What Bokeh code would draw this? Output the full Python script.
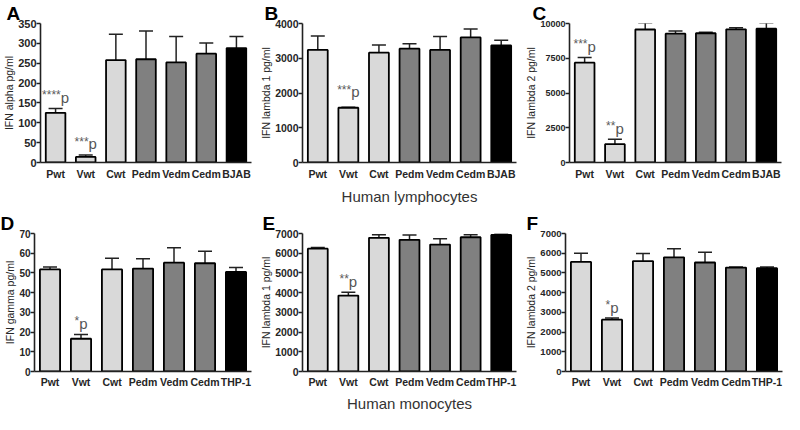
from bokeh.plotting import figure
from bokeh.models import ColumnDataSource, Whisker, FactorRange, Range1d, FixedTicker, TeeHead
from bokeh.layouts import row, column
from bokeh.embed import file_html
from bokeh.resources import INLINE
from bokeh.core.properties import value

# ---------------- data ----------------
cats_lym = ["Pwt", "Vwt", "Cwt", "Pedm", "Vedm", "Cedm", "BJAB"]
cats_mono = ["Pwt", "Vwt", "Cwt", "Pedm", "Vedm", "Cedm", "THP-1"]
shade = ["light", "light", "light", "dark", "dark", "dark", "black"]

a_mean = [125, 14, 258, 260, 252, 274, 288]
a_low = [111, 8, 190, 187, 190, 247, 260]
a_high = [136, 19, 323, 331, 317, 301, 317]

b_mean = [3240, 1575, 3160, 3275, 3240, 3600, 3370]
b_low = [2840, 1560, 2955, 3140, 2860, 3345, 3210]
b_high = [3640, 1590, 3380, 3415, 3625, 3845, 3520]

c_mean = [7180, 1320, 9570, 9270, 9300, 9580, 9630]
c_low = [6810, 950, 9090, 9120, 9250, 9460, 9200]
c_high = [7560, 1670, 10030, 9460, 9370, 9700, 10040]

d_mean = [51.8, 16.6, 51.8, 52.2, 55.2, 54.9, 50.5]
d_low = [51.0, 14.8, 47.0, 47.0, 47.6, 48.8, 48.5]
d_high = [53.0, 18.8, 57.5, 57.2, 62.8, 61.0, 52.7]

e_mean = [6230, 3850, 6780, 6680, 6440, 6810, 6930]
e_low = [6160, 3650, 6620, 6420, 6160, 6700, 6880]
e_high = [6290, 4020, 6940, 6920, 6730, 6940, 6970]

f_mean = [5560, 2630, 5600, 5790, 5530, 5270, 5240]
f_low = [5140, 2580, 5190, 5330, 5010, 5240, 5200]
f_high = [6000, 2710, 5980, 6230, 6050, 5300, 5300]

# significance labels (category, stars)
a_sig = [("Pwt", "****"), ("Vwt", "***")]
b_sig = [("Vwt", "***")]
c_sig = [("Pwt", "***"), ("Vwt", "**")]
d_sig = [("Vwt", "*")]
e_sig = [("Vwt", "**")]
f_sig = [("Vwt", "*")]

a_ticks = [0, 50, 100, 150, 200, 250, 300, 350]
b_ticks = [0, 1000, 2000, 3000, 4000]
c_ticks = [0, 2500, 5000, 7500, 10000]
d_ticks = [0, 10, 20, 30, 40, 50, 60, 70]
ef_ticks = [0, 1000, 2000, 3000, 4000, 5000, 6000, 7000]

COLORS = {"light": "#d9d9d9", "dark": "#808080", "black": "#000000"}
FONT = "Liberation Sans"
TXT = "#262626"


def panel(letter, cats, mean, low, high, ticks, ylabel, sig, width, height,
          bl, br, bt, bb, tick_fs, title_off, xlabel=" ", xl_std=5, lab_std=5,
          sig_gap=0.08):
    p = figure(x_range=FactorRange(*cats, range_padding=0.0),
               y_range=Range1d(0, ticks[-1]),
               width=width, height=height, output_backend="svg",
               toolbar_location=None, min_border_left=bl, min_border_right=br,
               min_border_top=bt, min_border_bottom=bb)
    src = ColumnDataSource(dict(x=cats, top=mean, low=low, high=high,
                                color=[COLORS[s] for s in shade]))
    p.vbar(x="x", top="top", width=0.65, source=src, fill_color="color",
           line_color="black", line_width=1.8)
    w = Whisker(base="x", upper="high", lower="low", source=src,
                line_color="#222222", line_width=1.5,
                upper_head=TeeHead(size=14, line_color="#222222", line_width=1.5),
                lower_head=TeeHead(size=14, line_color="#222222", line_width=1.5))
    p.add_layout(w)

    # significance annotations
    ymax = ticks[-1]
    hi = dict(zip(cats, high))
    fs_star, fs_p = 12, 15
    for cat, stars in sig:
        n = len(stars)
        wid = n * 0.389 * fs_star + 0.556 * fs_p
        dx = -wid / 2 + n * 0.389 * fs_star
        y = hi[cat] + sig_gap * ymax
        p.text(x=[cat], y=[y], text=[stars], text_align="right",
               text_baseline="alphabetic", text_font=value(FONT),
               text_font_size=f"{fs_star}px", text_color="#5a5a5a",
               x_offset=dx, y_offset=-2)
        p.text(x=[cat], y=[y], text=["p"], text_align="left",
               text_baseline="alphabetic", text_font=value(FONT),
               text_font_size=f"{fs_p}px", text_color="#555555", x_offset=dx)

    p.title.text = letter
    p.title.text_font = FONT
    p.title.text_font_size = "19px"
    p.title.text_font_style = "bold"
    p.title.text_color = "black"
    p.title.align = "left"
    p.title.offset = title_off
    p.title.standoff = 0

    p.xgrid.visible = False
    p.ygrid.visible = False
    p.outline_line_color = None
    p.background_fill_color = "white"
    p.border_fill_color = "white"

    ya = p.yaxis[0]
    ya.ticker = FixedTicker(ticks=ticks)
    ya.axis_label = ylabel
    ya.axis_label_text_font = FONT
    ya.axis_label_text_font_size = "10.5px"
    ya.axis_label_text_font_style = "normal"
    ya.axis_label_text_color = TXT
    ya.axis_label_standoff = 0
    ya.major_label_text_font = FONT
    ya.major_label_text_font_size = tick_fs
    ya.major_label_text_font_style = "bold"
    ya.major_label_text_color = TXT
    ya.major_label_standoff = 0
    ya.major_tick_out = 4
    ya.major_tick_in = 0
    ya.minor_tick_out = 0
    ya.minor_tick_in = 0
    ya.axis_line_width = 1.6
    ya.axis_line_color = "#222222"
    ya.major_tick_line_width = 1.6
    ya.major_tick_line_color = "#222222"

    xa = p.xaxis[0]
    xa.major_tick_out = 0
    xa.major_tick_in = 0
    xa.major_label_standoff = lab_std
    xa.major_label_text_font = FONT
    xa.major_label_text_font_size = "10.5px"
    xa.major_label_text_font_style = "bold"
    xa.major_label_text_color = TXT
    xa.axis_line_width = 1.6
    xa.axis_line_color = "#222222"
    xa.axis_label = xlabel
    xa.axis_label_text_font = FONT
    xa.axis_label_text_font_size = "15px"
    xa.axis_label_text_font_style = "normal"
    xa.axis_label_text_color = "#333333"
    xa.axis_label_standoff = xl_std
    return p


H1, H2 = 207, 207
pA = panel("A", cats_lym, a_mean, a_low, a_high, a_ticks, "IFN alpha pg/ml", a_sig,
           257, H1, 34, 6, 21, 43, "11px", -34)
pB = panel("B", cats_lym, b_mean, b_low, b_high, b_ticks, "IFN lambda 1 pg/ml", b_sig,
           265, H1, 43, 6, 21, 43, "10.5px", -38, xlabel="Human lymphocytes",
           sig_gap=0.11)
pC = panel("C", cats_lym, c_mean, c_low, c_high, c_ticks, "IFN lambda 2 pg/ml", c_sig,
           262, H1, 42, 3, 21, 43, "9px", -37)
pD = panel("D", cats_mono, d_mean, d_low, d_high, d_ticks, "IFN gamma pg/ml", d_sig,
           257, H2, 34, 6, 26, 38, "10px", -34, xl_std=4, lab_std=4)
pE = panel("E", cats_mono, e_mean, e_low, e_high, ef_ticks, "IFN lambda 1 pg/ml", e_sig,
           265, H2, 43, 6, 26, 38, "10.5px", -40, xlabel="Human monocytes", xl_std=4, lab_std=4)
pF = panel("F", cats_mono, f_mean, f_low, f_high, ef_ticks, "IFN lambda 2 pg/ml", f_sig,
           262, H2, 43, 2, 26, 38, "9.5px", -39, xl_std=4, lab_std=4)

layout = column(row(pA, pB, pC, spacing=0), row(pD, pE, pF, spacing=0), spacing=0)

with open("out.html", "w") as f:
    f.write(file_html(layout, INLINE))
